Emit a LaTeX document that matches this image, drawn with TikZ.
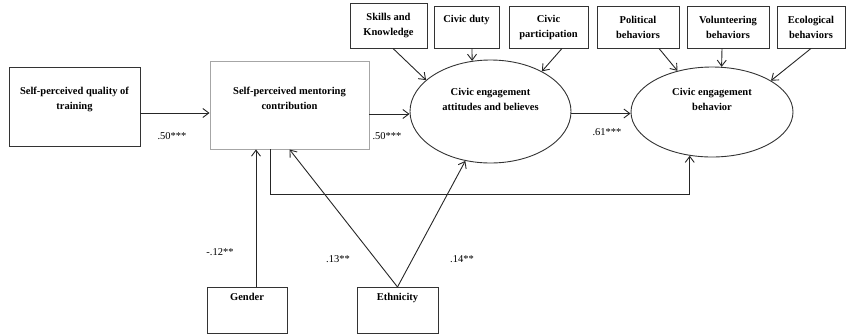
\documentclass[tikz,border=0pt]{standalone}
\usepackage{fontspec}
\setmainfont{Liberation Serif}
\usetikzlibrary{arrows.meta,shapes.geometric,calc}
\begin{document}
\begin{tikzpicture}[x=1pt,y=-1pt,
  box/.style={draw=black!80, line width=0.9pt, rectangle, align=center,
    font=\bfseries\fontsize{10.5}{15}\selectfont, inner sep=3pt},
  oval/.style={draw=black!80, line width=0.9pt, ellipse, align=center,
    font=\bfseries\fontsize{10.5}{15}\selectfont, inner sep=0pt},
  conn/.style={draw=black!85, line width=0.9pt, -{Straight Barb[length=6pt,width=9pt]}},
  coef/.style={font=\fontsize{10.5}{12}\selectfont, inner sep=0pt}]
\useasboundingbox (0,0) rectangle (848,333);

% main boxes
\node[box, minimum width=131pt, minimum height=79pt, text depth=16pt] (quality) at (74.5,106.5)
  {Self-perceived quality of\\training};
\node[box, draw=black!35, minimum width=159pt, minimum height=88pt, text depth=13pt] (ment) at (289.5,105)
  {Self-perceived mentoring\\contribution};
\node[oval, minimum width=161pt, minimum height=103pt, text depth=25pt] (att) at (490.5,111.5)
  {Civic engagement\\attitudes and believes};
\node[oval, minimum width=162pt, minimum height=90pt, text depth=25pt] (beh) at (712,112)
  {Civic engagement\\behavior};

% indicator boxes
\node[box, minimum width=77pt, minimum height=45pt] (skills) at (388.5,25.5) {Skills and\\Knowledge};
\node[box, minimum width=65pt, minimum height=42pt, text depth=17pt] (duty) at (466.5,27) {Civic duty};
\node[box, minimum width=79pt, minimum height=42pt] (part) at (548.5,27) {Civic\\participation};
\node[box, minimum width=82pt, minimum height=42pt] (pol) at (638,27) {Political\\behaviors};
\node[box, minimum width=82pt, minimum height=42pt] (vol) at (728,27) {Volunteering\\behaviors};
\node[box, minimum width=68pt, minimum height=42pt] (eco) at (811,27) {Ecological\\behaviors};

% covariates
\node[box, anchor=north, minimum width=80pt, inner ysep=6pt, text depth=27pt] (gender) at (247,287) {Gender};
\node[box, anchor=north, minimum width=81pt, inner ysep=6pt, text depth=27pt] (eth) at (397.5,287) {Ethnicity};

% coordinates
\coordinate (q1) at ($(quality.east)+(0,6.5)$);
\coordinate (m1) at ($(ment.east)+(0,9)$);
\coordinate (a1) at ($(att.east)+(0,2)$);
\coordinate (g1) at ($(gender.north)+(9,0)$);
\coordinate (mloop) at ($(ment.south)+(-19.5,0)$);
\coordinate (loopy) at (0,194);

% structural paths
\draw[conn] (q1) -- (q1 -| ment.west);
\draw[conn] (m1) -- (m1 -| att.west);
\draw[conn] (a1) -- (a1 -| beh.west);
\draw[conn] (mloop) -- (mloop |- loopy) -| (beh.243);
\draw[conn] (g1) -- (g1 |- ment.south);
\draw[conn] (eth.north) -- (ment.south);
\draw[conn] (eth.north) -- (att.243);

% indicators
\draw[conn] ($(skills.south)+(4.5,0)$) -- (att.154);
\draw[conn] ($(duty.south)+(5.5,0)$) -- (att.110);
\draw[conn] ($(part.south)+(13.5,0)$) -- (att.38);
\draw[conn] ($(pol.south)+(21,0)$) -- (beh.130);
\draw[conn] ($(vol.south)+(-6,0)$) -- (beh.78);
\draw[conn] (eco.south) -- (beh.28);

% coefficients
\node[coef] (c1) at (172,136) {.50***};
\node[coef] (c2) at (387,136) {.50***};
\node[coef] (c3) at (607,132) {.61***};
\node[coef] (c4) at (220,252) {-.12**};
\node[coef] (c5) at (338,259) {.13**};
\node[coef] (c6) at (462,259) {.14**};
\end{tikzpicture}
\end{document}
